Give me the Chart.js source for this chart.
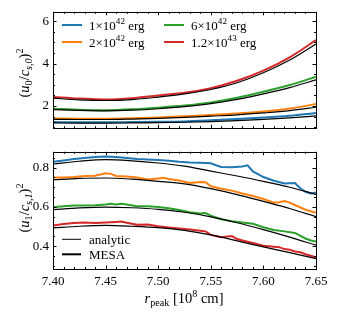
<!DOCTYPE html>
<html><head><meta charset="utf-8">
<script src="https://cdn.jsdelivr.net/npm/chart.js@4.4.1/dist/chart.umd.min.js"></script>
<style>
html,body{margin:0;padding:0;background:#fff;}
#wrap{position:relative;width:338px;height:318px;}
canvas{position:absolute;left:0;}
</style></head>
<body><div id="wrap"><canvas id="c1" width="338" height="140" style="top:0"></canvas><canvas id="c2" width="338" height="178" style="top:140px"></canvas></div>
<script>
// ---------- data ----------
const rGrid = [7.40,7.425,7.45,7.475,7.50,7.525,7.55,7.575,7.60,7.625,7.65];
const xTicks = [7.40,7.45,7.50,7.55,7.60,7.65];
const topTicks = [2,4,6];
const botTicks = [0.4,0.6,0.8];
const seriesLabels = ['1\u00d710|42| erg','2\u00d710|42| erg','6\u00d710|42| erg','1.2\u00d710|43| erg'];
const seriesColors = ['#1f77b4','#ff7f0e','#2ca02c','#d62728'];

// top panel (u0/cs,0)^2
const blueMesaTop   = [1.24,1.23,1.23,1.24,1.25,1.27,1.32,1.38,1.45,1.54,1.67];
const blueAnaTop    = [1.20,1.19,1.19,1.20,1.21,1.23,1.26,1.31,1.37,1.44,1.53];
const orangeMesaTop = [1.41,1.40,1.40,1.42,1.46,1.52,1.57,1.64,1.74,1.88,2.09];
const orangeAnaTop  = [1.37,1.36,1.36,1.38,1.41,1.46,1.52,1.58,1.67,1.78,1.94];
const greenMesaTop  = [1.87,1.82,1.80,1.84,1.92,2.02,2.17,2.39,2.67,2.99,3.38];
const greenAnaTop   = [1.83,1.79,1.77,1.80,1.87,1.97,2.11,2.31,2.57,2.87,3.23];
const redMesaTop    = [2.43,2.35,2.31,2.37,2.50,2.62,2.84,3.19,3.67,4.30,5.11];
const redAnaTop     = [2.37,2.29,2.26,2.30,2.42,2.57,2.78,3.10,3.57,4.17,4.93];

// bottom panel (u1/cs,1)^2
const blueAnaBot   = [0.818,0.832,0.840,0.834,0.823,0.807,0.782,0.757,0.730,0.700,0.664];
const orangeAnaBot = [0.737,0.745,0.747,0.741,0.730,0.717,0.693,0.663,0.628,0.592,0.551];
const greenAnaBot  = [0.586,0.595,0.599,0.596,0.588,0.573,0.550,0.520,0.485,0.447,0.406];
const redAnaBot    = [0.494,0.502,0.506,0.502,0.495,0.481,0.458,0.428,0.397,0.368,0.338];

const rBlueMesa   = [7.40,7.41,7.42,7.43,7.44,7.45,7.46,7.47,7.48,7.49,7.50,7.51,7.52,7.53,7.54,7.55,7.555,7.56,7.57,7.58,7.585,7.59,7.60,7.61,7.62,7.63,7.635,7.64,7.645,7.65];
const blueMesaBot = [0.830,0.836,0.843,0.848,0.853,0.856,0.854,0.848,0.843,0.841,0.838,0.834,0.829,0.826,0.825,0.822,0.812,0.803,0.801,0.805,0.811,0.780,0.752,0.733,0.719,0.722,0.695,0.677,0.668,0.673];
const rOrangeMesa   = [7.40,7.41,7.42,7.43,7.44,7.445,7.45,7.455,7.46,7.47,7.48,7.49,7.50,7.505,7.51,7.52,7.53,7.54,7.545,7.55,7.56,7.57,7.58,7.59,7.60,7.61,7.615,7.62,7.625,7.63,7.64,7.65];
const orangeMesaBot = [0.750,0.749,0.752,0.757,0.758,0.765,0.771,0.768,0.757,0.755,0.750,0.740,0.745,0.748,0.742,0.734,0.722,0.727,0.726,0.705,0.692,0.683,0.668,0.656,0.640,0.622,0.624,0.630,0.622,0.610,0.586,0.570];
const rGreenMesa   = [7.40,7.41,7.42,7.43,7.44,7.45,7.455,7.46,7.465,7.47,7.48,7.49,7.50,7.51,7.52,7.53,7.54,7.545,7.55,7.56,7.57,7.58,7.59,7.60,7.61,7.62,7.63,7.64,7.645,7.65];
const greenMesaBot = [0.599,0.604,0.607,0.607,0.609,0.613,0.616,0.612,0.616,0.612,0.604,0.603,0.600,0.593,0.585,0.573,0.567,0.569,0.556,0.538,0.528,0.521,0.515,0.497,0.483,0.476,0.468,0.440,0.430,0.425];
const rRedMesa   = [7.40,7.41,7.42,7.43,7.44,7.45,7.46,7.465,7.47,7.48,7.49,7.50,7.51,7.52,7.53,7.54,7.545,7.55,7.56,7.57,7.575,7.58,7.59,7.60,7.61,7.615,7.62,7.625,7.63,7.635,7.64,7.645,7.65];
const redMesaBot = [0.506,0.513,0.518,0.521,0.519,0.521,0.524,0.526,0.520,0.510,0.511,0.502,0.496,0.491,0.485,0.479,0.476,0.458,0.446,0.452,0.437,0.430,0.417,0.403,0.398,0.396,0.386,0.383,0.374,0.370,0.360,0.352,0.345];

// ---------- helpers ----------
const FAM = '"Liberation Serif", "DejaVu Serif", serif';
const pts = (xs, ys) => xs.map((x,i)=>({x:x, y:ys[i]}));
function anaDs(ys){ return {data:pts(rGrid,ys), borderColor:'#000', borderWidth:1.2, pointRadius:0, cubicInterpolationMode:'monotone', fill:false}; }
function mesaDs(xs, ys, c, smooth){ return {data:pts(xs,ys), borderColor:c, borderWidth:2, pointRadius:0, cubicInterpolationMode: smooth?'monotone':'default', tension:0, fill:false}; }

function drawRich(ctx, segs, x, y, F, rotate, align){
  const fontOf = s => (s.i?'italic ':'') + ((s.p==='sub'||s.p==='sup')?F*0.7:F) + 'px ' + FAM;
  let w = 0;
  segs.forEach(s=>{ ctx.font = fontOf(s); w += ctx.measureText(s.t).width; });
  ctx.save();
  ctx.translate(x,y);
  if (rotate) ctx.rotate(-Math.PI/2);
  ctx.fillStyle = '#000'; ctx.textBaseline = 'alphabetic'; ctx.textAlign = 'left';
  let cx = align==='center' ? -w/2 : 0;
  segs.forEach(s=>{
    ctx.font = fontOf(s);
    const dy = s.p==='sub' ? F*0.22 : (s.p==='sup' ? -F*0.4 : 0);
    ctx.fillText(s.t, cx, dy);
    cx += ctx.measureText(s.t).width;
  });
  ctx.restore();
}
function legendSegs(lbl){ const p = lbl.split('|'); return [{t:p[0]},{t:p[1],p:'sup'},{t:p[2]}]; }

function framePlugin(yMinorStart, yMinorEnd, yMinorStep){
  return { id:'frame', afterDatasetsDraw(chart){
    const {ctx, chartArea:a, scales} = chart;
    const xs = scales.x, ys = scales.y;
    ctx.save(); ctx.strokeStyle = '#000'; ctx.lineWidth = 1;
    ctx.beginPath();
    const tick = (px, len, vert) => {
      if (vert) { ctx.moveTo(px, a.bottom); ctx.lineTo(px, a.bottom-len); ctx.moveTo(px, a.top); ctx.lineTo(px, a.top+len); }
      else { ctx.moveTo(a.left, px); ctx.lineTo(a.left+len, px); ctx.moveTo(a.right, px); ctx.lineTo(a.right-len, px); }
    };
    for (let k=0;k<=25;k++){ const v = 7.40 + k*0.01; tick(Math.round(xs.getPixelForValue(v))+0.5, k%5===0?3.5:2, true); }
    const n = Math.round((yMinorEnd-yMinorStart)/yMinorStep);
    for (let k=0;k<=n;k++){ const v = yMinorStart + k*yMinorStep; tick(Math.round(ys.getPixelForValue(v))+0.5, 2, false); }
    ys.ticks.forEach(t=>tick(Math.round(ys.getPixelForValue(t.value))+0.5, 3.5, false));
    ctx.stroke();
    ctx.strokeRect(Math.round(a.left)+0.5, Math.round(a.top)+0.5, Math.round(a.right-a.left), Math.round(a.bottom-a.top));
    ctx.restore();
  }};
}

function xScale(showLabels){
  return { type:'linear', min:7.40, max:7.65, display: showLabels,
    afterBuildTicks: s => { s.ticks = xTicks.map(v=>({value:v})); },
    afterFit: s => { s.height = showLabels ? 49 : 0; },
    grid:{display:false, drawTicks:false}, border:{display:false},
    ticks:{ font:{family:FAM, size:13}, color:'#000', padding:5, maxRotation:0, autoSkip:false, callback: v => Number(v).toFixed(2) } };
}
function yScale(min, max, tks, dec){
  return { type:'linear', min:min, max:max,
    afterBuildTicks: s => { s.ticks = tks.map(v=>({value:v})); },
    afterFit: s => { s.width = 53; },
    grid:{display:false, drawTicks:false}, border:{display:false},
    ticks:{ font:{family:FAM, size:13}, color:'#000', padding:4, autoSkip:false, callback: v => Number(v).toFixed(dec) } };
}

// ---------- top chart ----------
new Chart(document.getElementById('c1'), {
  type:'line',
  data:{ datasets:[
    anaDs(blueAnaTop), anaDs(orangeAnaTop), anaDs(greenAnaTop), anaDs(redAnaTop),
    mesaDs(rGrid, blueMesaTop, seriesColors[0], true), mesaDs(rGrid, orangeMesaTop, seriesColors[1], true),
    mesaDs(rGrid, greenMesaTop, seriesColors[2], true), mesaDs(rGrid, redMesaTop, seriesColors[3], true)
  ]},
  options:{ responsive:false, animation:false, devicePixelRatio:1,
    layout:{padding:{top:10, right:22, bottom:7, left:0}},
    plugins:{legend:{display:false}, tooltip:{enabled:false}},
    scales:{ x: xScale(false), y: yScale(0.95, 6.45, topTicks, 0) } },
  plugins:[ framePlugin(1.0, 6.0, 0.5), { id:'deco', afterDraw(chart){
    const ctx = chart.ctx, F = 13;
    const pos = [[62,25],[62,42],[164,25],[164,42]];
    pos.forEach((p,i)=>{
      ctx.save(); ctx.strokeStyle = seriesColors[i]; ctx.lineWidth = 2;
      ctx.beginPath(); ctx.moveTo(p[0], p[1]); ctx.lineTo(p[0]+20, p[1]); ctx.stroke(); ctx.restore();
      drawRich(ctx, legendSegs(seriesLabels[i]), p[0]+27, p[1]+4.5, F, false, 'left');
    });
    drawRich(ctx, [{t:'('},{t:'u',i:1},{t:'0',p:'sub'},{t:'/'},{t:'c',i:1},{t:'s,0',p:'sub',i:1},{t:')'},{t:'2',p:'sup'}], 29, 73, 14.5, true, 'center');
  }} ]
});

// ---------- bottom chart ----------
new Chart(document.getElementById('c2'), {
  type:'line',
  data:{ datasets:[
    anaDs(blueAnaBot), anaDs(orangeAnaBot), anaDs(greenAnaBot), anaDs(redAnaBot),
    mesaDs(rBlueMesa, blueMesaBot, seriesColors[0]), mesaDs(rOrangeMesa, orangeMesaBot, seriesColors[1]),
    mesaDs(rGreenMesa, greenMesaBot, seriesColors[2]), mesaDs(rRedMesa, redMesaBot, seriesColors[3])
  ]},
  options:{ responsive:false, animation:false, devicePixelRatio:1,
    layout:{padding:{top:6, right:22, bottom:0, left:0}},
    plugins:{legend:{display:false}, tooltip:{enabled:false}},
    scales:{ x: xScale(true), y: yScale(0.285, 0.88, botTicks, 1) } },
  plugins:[ framePlugin(0.30, 0.85, 0.05), { id:'deco', afterDraw(chart){
    const ctx = chart.ctx, F = 13;
    [[99.3,1,'analytic'],[114.3,2,'MESA']].forEach(r=>{
      ctx.save(); ctx.strokeStyle = '#000'; ctx.lineWidth = r[1];
      ctx.beginPath(); ctx.moveTo(62, r[0]); ctx.lineTo(81, r[0]); ctx.stroke(); ctx.restore();
      drawRich(ctx, [{t:r[2]}], 89, r[0]+4.5, F, false, 'left');
    });
    drawRich(ctx, [{t:'('},{t:'u',i:1},{t:'1',p:'sub'},{t:'/'},{t:'c',i:1},{t:'s,1',p:'sub',i:1},{t:')'},{t:'2',p:'sup'}], 29, 68, 14.5, true, 'center');
    drawRich(ctx, [{t:'r',i:1},{t:'peak',p:'sub'},{t:' [10'},{t:'8',p:'sup'},{t:' cm]'}], 184, 163, 14.5, false, 'center');
  }} ]
});
</script>
</body></html>
